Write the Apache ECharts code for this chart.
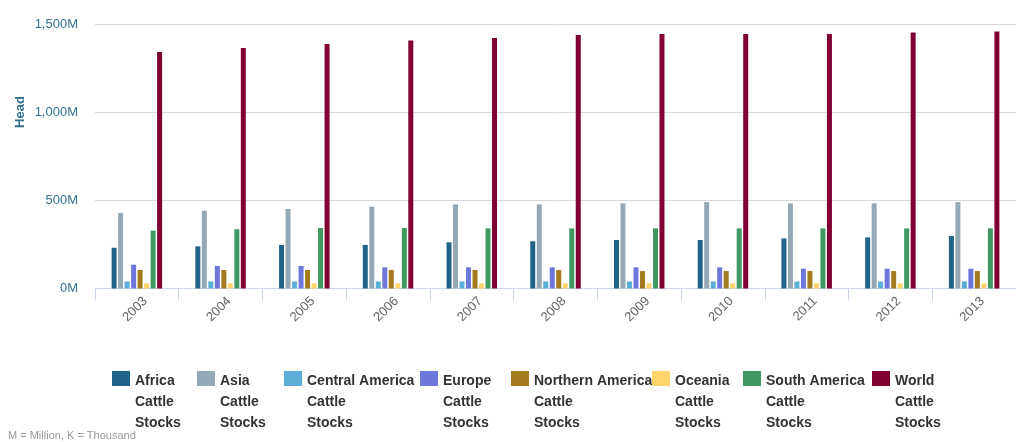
<!DOCTYPE html>
<html>
<head>
<meta charset="utf-8">
<script src="https://cdn.jsdelivr.net/npm/echarts@6/dist/echarts.min.js"></script>
<style>
  html, body { margin: 0; padding: 0; background: #fff; }
  #chart { width: 1016px; height: 442px; }
</style>
</head>
<body>
<div id="chart"></div>
<script>
  // values in millions of head
  const years = ['2003', '2004', '2005', '2006', '2007', '2008', '2009', '2010', '2011', '2012', '2013']
  const africa = [231, 239, 247, 247, 262, 268, 275, 275, 284, 290, 298]
  const asia = [428, 441, 451, 464, 477, 477, 483, 490, 483, 483, 490]
  const centralAmerica = [40, 40, 40, 40, 40, 40, 40, 40, 40, 40, 40]
  const europe = [135, 128, 128, 120, 120, 120, 120, 120, 112, 112, 112]
  const northernAmerica = [105, 105, 105, 105, 105, 105, 99, 99, 99, 99, 99]
  const oceania = [29, 29, 29, 29, 29, 29, 29, 29, 29, 29, 29]
  const southAmerica = [328, 336, 343, 343, 341, 341, 341, 341, 341, 341, 341]
  const world = [1341, 1364, 1387, 1406, 1420, 1437, 1443, 1443, 1443, 1452, 1458]
  const yTicks = [0, 500, 1000, 1500]

  const names = ['Africa Cattle Stocks', 'Asia Cattle Stocks', 'Central America Cattle Stocks',
    'Europe Cattle Stocks', 'Northern America Cattle Stocks', 'Oceania Cattle Stocks',
    'South America Cattle Stocks', 'World Cattle Stocks']
  const values = [africa, asia, centralAmerica, europe, northernAmerica, oceania, southAmerica, world]
  const colors = ['#216487', '#95a8b6', '#5aaed8', '#6e76dc', '#a37b1e', '#ffd56b', '#409862', '#800032']
  const legendLeft = [112, 197, 284, 420, 511, 652, 743, 872]

  const FONT = 'Liberation Sans'
  const BLUE = '#31708f'

  let chart = echarts.init(document.getElementById('chart'))

  let series = names.map((name, i) => ({
    name: name,
    type: 'bar',
    data: values[i],
    barWidth: 5,
    barGap: '30%',
    itemStyle: { color: colors[i] }
  }))

  // square at the top of a tall icon so it lines up with the first text line
  let legends = names.map((name, i) => ({
    data: [name],
    left: legendLeft[i],
    top: 371,
    padding: 0,
    icon: 'path://M0,0h18v15h-18z M0,63l0,0',
    itemWidth: 18,
    itemHeight: 63,
    itemStyle: { borderWidth: 0 },
    formatter: n => n.replace(/ Cattle Stocks$/, '\nCattle\nStocks'),
    textStyle: {
      fontFamily: FONT,
      fontWeight: 'bold',
      fontSize: 14,
      color: '#333',
      lineHeight: 21
    }
  }))

  let option = {
    animation: false,
    color: colors,
    grid: { left: 95, top: 24, width: 932, height: 264.5, containLabel: false },
    legend: legends,
    xAxis: {
      type: 'category',
      data: years,
      axisLine: { lineStyle: { color: '#ccd6eb', width: 1 } },
      axisTick: { show: true, length: 12, alignWithLabel: false, lineStyle: { color: '#ccd6eb' } },
      axisLabel: {
        rotate: 45,
        color: '#666',
        fontFamily: FONT,
        fontSize: 13,
        margin: 19,
        padding: [0, -12, 0, 0]
      }
    },
    yAxis: {
      type: 'value',
      min: yTicks[0],
      max: yTicks[yTicks.length - 1],
      interval: 500,
      axisLine: { show: false },
      axisTick: { show: false },
      splitLine: { lineStyle: { color: '#d8d8d8', width: 1 } },
      axisLabel: {
        color: BLUE,
        fontFamily: FONT,
        fontSize: 13,
        margin: 17,
        formatter: v => v.toLocaleString('en-US') + 'M'
      }
    },
    graphic: [
      {
        type: 'text',
        x: 20,
        y: 112,
        rotation: Math.PI / 2,
        style: {
          text: 'Head',
          fill: BLUE,
          font: 'bold 13px ' + FONT,
          align: 'center',
          verticalAlign: 'middle'
        }
      },
      {
        type: 'text',
        left: 8,
        top: 430,
        style: {
          text: 'M = Million, K = Thousand',
          fill: '#999',
          font: '11px ' + FONT
        }
      }
    ],
    series: series
  }
  chart.setOption(option)
</script>
</body>
</html>
